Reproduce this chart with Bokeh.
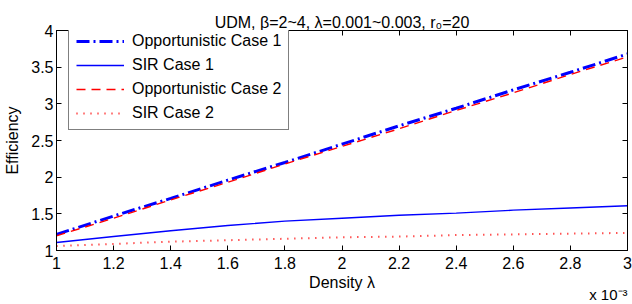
from bokeh.plotting import figure
from bokeh.models import (Range1d, FixedTicker, LinearAxis, CustomJSTickFormatter,
                          Legend, LegendItem, Title)
from bokeh.embed import file_html
from bokeh.resources import INLINE

# Density lambda, in units of 10^-3
DENSITY = [1.0, 1.2, 1.4, 1.6, 1.8, 2.0, 2.2, 2.4, 2.6, 2.8, 3.0]
OPP_CASE1 = [1.22, 1.47, 1.71, 1.96, 2.20, 2.45, 2.70, 2.94, 3.19, 3.43, 3.68]
SIR_CASE1 = [1.11, 1.19, 1.27, 1.34, 1.40, 1.44, 1.48, 1.51, 1.55, 1.58, 1.61]
OPP_CASE2 = [1.20, 1.44, 1.69, 1.93, 2.18, 2.42, 2.66, 2.91, 3.15, 3.40, 3.64]
SIR_CASE2 = [1.06, 1.09, 1.12, 1.14, 1.16, 1.18, 1.19, 1.21, 1.22, 1.23, 1.24]

X_TICKS = [1.0, 1.2, 1.4, 1.6, 1.8, 2.0, 2.2, 2.4, 2.6, 2.8, 3.0]
Y_TICKS = [1.0, 1.5, 2.0, 2.5, 3.0, 3.5, 4.0]
SERIES_NAMES = ["Opportunistic Case 1", "SIR Case 1", "Opportunistic Case 2", "SIR Case 2"]
TITLE = "UDM, \u03b2=2~4, \u03bb=0.001~0.003, r\u2080=20"
X_LABEL = "Density \u03bb"
X_SCALE = "x 10\u207b\u00b3"
Y_LABEL = "Efficiency"

FONT = "Liberation Sans"
FS = "16px"

p = figure(frame_width=571, frame_height=220,
           x_range=Range1d(1, 3), y_range=Range1d(1, 4),
           output_backend="svg", toolbar_location=None,
           min_border_left=56, min_border_right=5,
           min_border_top=30, min_border_bottom=54)
p.xgrid.visible = False
p.ygrid.visible = False
p.outline_line_color = "black"
p.outline_line_width = 1
p.background_fill_color = "white"
p.border_fill_color = "white"

p.title.text = TITLE
p.title.align = "center"
p.title.vertical_align = "top"
p.title.text_font = FONT
p.title.text_font_size = FS
p.title.text_font_style = "normal"
p.title.text_color = "black"
p.title.standoff = -4

fmt = CustomJSTickFormatter(code="return String(Number(tick.toFixed(2)));")

def style_axis(ax, ticks, show_labels):
    ax.ticker = FixedTicker(ticks=ticks)
    ax.major_tick_in = 5
    ax.major_tick_out = 0
    ax.minor_tick_line_color = None
    ax.axis_line_color = "black"
    ax.major_tick_line_color = "black"
    ax.major_label_text_font = FONT
    ax.major_label_text_color = "black"
    ax.axis_label_text_font = FONT
    ax.axis_label_text_font_style = "normal"
    ax.axis_label_text_color = "black"
    ax.axis_label_text_font_size = FS
    if show_labels:
        ax.formatter = fmt
        ax.major_label_text_font_size = FS
    else:
        ax.formatter = CustomJSTickFormatter(code="return '';")
        ax.major_label_text_font_size = "0px"
        ax.major_label_standoff = 0

xa = p.xaxis[0]
style_axis(xa, X_TICKS, True)
xa.axis_label = X_LABEL
xa.major_label_standoff = 6
xa.axis_label_standoff = 2

ya = p.yaxis[0]
style_axis(ya, Y_TICKS, True)
ya.axis_label = Y_LABEL
ya.major_label_standoff = 3
ya.axis_label_standoff = 7

top = LinearAxis()
style_axis(top, X_TICKS, False)
p.add_layout(top, "above")
right = LinearAxis()
style_axis(right, Y_TICKS, False)
p.add_layout(right, "right")

r1 = p.line(DENSITY, OPP_CASE1, line_color="#0000ff", line_width=3, line_dash="13 4 2 4")
r2 = p.line(DENSITY, SIR_CASE1, line_color="#0000ff", line_width=1.4)
r3 = p.line(DENSITY, OPP_CASE2, line_color="#ff0000", line_width=1.4, line_dash="9 6")
r4 = p.line(DENSITY, SIR_CASE2, line_color="#ff0000", line_width=2, line_dash="1 6")

legend = Legend(items=[LegendItem(label=n, renderers=[r]) for n, r in
                       zip(SERIES_NAMES, [r1, r2, r3, r4])],
                location=(12, 120), margin=0, padding=7, spacing=6,
                label_height=16, glyph_height=16, glyph_width=48,
                label_standoff=8, label_text_font=FONT, label_text_font_size=FS,
                label_text_color="black", border_line_color="black",
                border_line_width=1, background_fill_color="white",
                background_fill_alpha=1)
p.add_layout(legend)

scale_note = Title(text=X_SCALE, align="right", vertical_align="top",
                   standoff=-16, offset=0, text_font=FONT, text_font_size="15px",
                   text_font_style="normal", text_color="black")
p.add_layout(scale_note, "below")

open("out.html", "w").write(file_html(p, INLINE))
